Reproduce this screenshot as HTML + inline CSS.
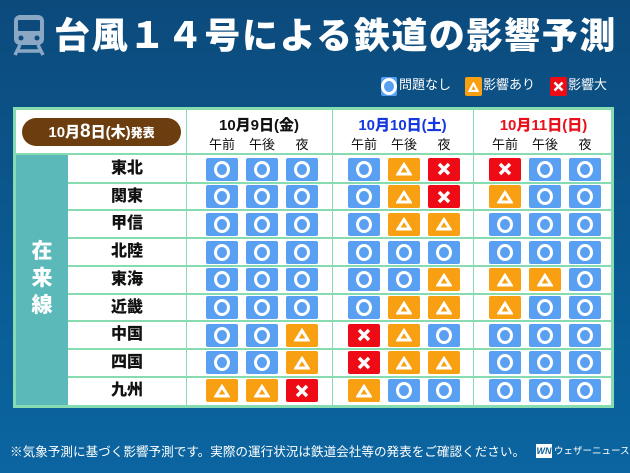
<!DOCTYPE html>
<html><head><meta charset="utf-8"><style>
*{margin:0;padding:0;box-sizing:border-box}
body{width:630px;height:473px;overflow:hidden;font-family:"Liberation Sans","Noto Sans CJK JP",sans-serif;background:linear-gradient(#0c4a7c,#0a5f98 70%,#0b65a0);position:relative}
.a{position:absolute}
.t{color:#fff;font-weight:900;font-size:36px;left:54px;top:13px;letter-spacing:1.6px;white-space:nowrap;line-height:46px}
.ic{position:absolute;width:32px;height:23px;border-radius:2px;display:flex;align-items:center;justify-content:center}
.o{background:#5aa0f2}.o::after{content:"";width:10px;height:11px;border:3.5px solid #fff;border-radius:50%}
.d{background:#f8a012}
.x{background:#ee0b16}
.name{position:absolute;left:68px;width:118px;text-align:center;font-weight:900;font-size:16px;color:#111;line-height:28px}
.hl{position:absolute;height:2px;background:#86dcb0;left:68px;width:546px}
.vl{position:absolute;width:1px;background:#86dcb0;top:108px;height:298px}
.dt{position:absolute;font-weight:900;font-size:15px;text-align:center;top:117px;line-height:18px}
.sub{position:absolute;font-size:13px;top:137px;color:#111;width:40px;text-align:center;line-height:16px}
.lg{font-size:13px;color:#fff;top:76px;line-height:18px}
</style></head><body>
<svg class="a" style="left:13px;top:15px" width="32" height="41" viewBox="0 0 32 41"><rect x="1" y="0" width="30" height="30" rx="6" fill="#8aa8c4"/><rect x="5" y="5" width="22" height="11" rx="1" fill="#0c4a7c"/><circle cx="8" cy="23" r="2.5" fill="#0c4a7c"/><circle cx="24" cy="23" r="2.5" fill="#0c4a7c"/><path d="M7 30 L2 40 M25 30 L30 40 M5 36 H27" stroke="#8aa8c4" stroke-width="3.5"/></svg>
<div class="a t">台風１４号による鉄道の影響予測</div>
<div class="a ic o" style="left:381px;top:77px;width:16px;height:19px"></div>
<div class="a lg" style="left:399px">問題なし</div>
<div class="a ic d" style="left:465px;top:77px;width:17px;height:19px"><svg width="11" height="10"><path d="M5.5 1.5 L9.5 9 L1.5 9Z" fill="none" stroke="#fff" stroke-width="2.2"/></svg></div>
<div class="a lg" style="left:483px">影響あり</div>
<div class="a ic x" style="left:550px;top:77px;width:17px;height:19px"><svg width="11" height="11"><path d="M1.5 1.5L9.5 9.5M9.5 1.5L1.5 9.5" stroke="#fff" stroke-width="2.6"/></svg></div>
<div class="a lg" style="left:568px">影響大</div>
<div class="a" style="left:13px;top:107px;width:601px;height:301px;background:#86dcb0"></div>
<div class="a" style="left:16px;top:110px;width:595px;height:295px;background:#fff"></div>
<div class="a" style="left:16px;top:155px;width:52px;height:250px;background:#5cb9b9"></div>
<div class="a" style="left:16px;top:153px;width:598px;height:2px;background:#86dcb0"></div>
<div class="a" style="left:27px;top:238px;color:#fff;font-weight:900;font-size:21px;line-height:27px;width:30px;text-align:center">在<br>来<br>線</div>
<div class="a" style="left:22px;top:118px;width:159px;height:28px;border-radius:14px;background:#6b3d0f;color:#fff;font-weight:900;font-size:15px;line-height:28px;text-align:center">10月<span style="font-size:19px">8</span>日(木)<span style="font-size:12px">発表</span></div>
<div class="vl" style="left:186px"></div><div class="vl" style="left:332px"></div><div class="vl" style="left:473px"></div>
<div class="dt" style="left:186px;width:146px;color:#111">10月9日(金)</div>
<div class="dt" style="left:332px;width:141px;color:#1538e0">10月10日(土)</div>
<div class="dt" style="left:473px;width:141px;color:#e8101a">10月11日(日)</div>
<div id="g"></div>
<div class="a" style="left:10px;top:443px;color:#fff;font-size:12.6px;line-height:18px;white-space:nowrap">※気象予測に基づく影響予測です。実際の運行状況は鉄道会社等の発表をご確認ください。</div>
<div class="a" style="left:536px;top:444px;width:16px;height:14px;background:#fff;color:#0b5f98;font-size:9px;font-weight:900;line-height:14px;text-align:center;font-style:italic">WN</div>
<div class="a" style="left:554px;top:443px;color:#fff;font-size:9.5px;line-height:18px;white-space:nowrap">ウェザーニュース</div>
<script>
var names=["東北","関東","甲信","北陸","東海","近畿","中国","四国","九州"];
var data=["ooo oDX Xoo","ooo oDX Doo","ooo oDD ooo","ooo ooo ooo","ooo ooD DDo","ooo oDD Doo","ooD XDo ooo","ooD XDD ooo","DDX Doo ooo"];
var xs=[206,246,286,348,388,428,489,529,569],h="";
var subs=["午前","午後","夜"];
for(var j=0;j<9;j++)h+='<div class="sub" style="left:'+(xs[j]-4)+'px">'+subs[j%3]+'</div>';
for(var i=0;i<9;i++){var y=155+i*27.7;
 if(i>0)h+='<div class="hl" style="top:'+(y-1)+'px"></div>';
 h+='<div class="name" style="top:'+y+'px">'+names[i]+'</div>';
 var s=data[i].replace(/ /g,'');
 for(var j=0;j<9;j++){var c=s[j],inner="",cl=c=="o"?"o":c=="D"?"d":"x";
  if(c=="D")inner='<svg width="16" height="14"><path d="M8 2.5 L14 12 L2 12Z" fill="none" stroke="#fff" stroke-width="3"/></svg>';
  if(c=="X")inner='<svg width="14" height="14"><path d="M2 2L12 12M12 2L2 12" stroke="#fff" stroke-width="3.4"/></svg>';
  h+='<div class="ic '+cl+'" style="left:'+xs[j]+'px;top:'+(y+2.5)+'px">'+inner+'</div>';}
}
document.getElementById('g').innerHTML=h;
</script>
</body></html>
